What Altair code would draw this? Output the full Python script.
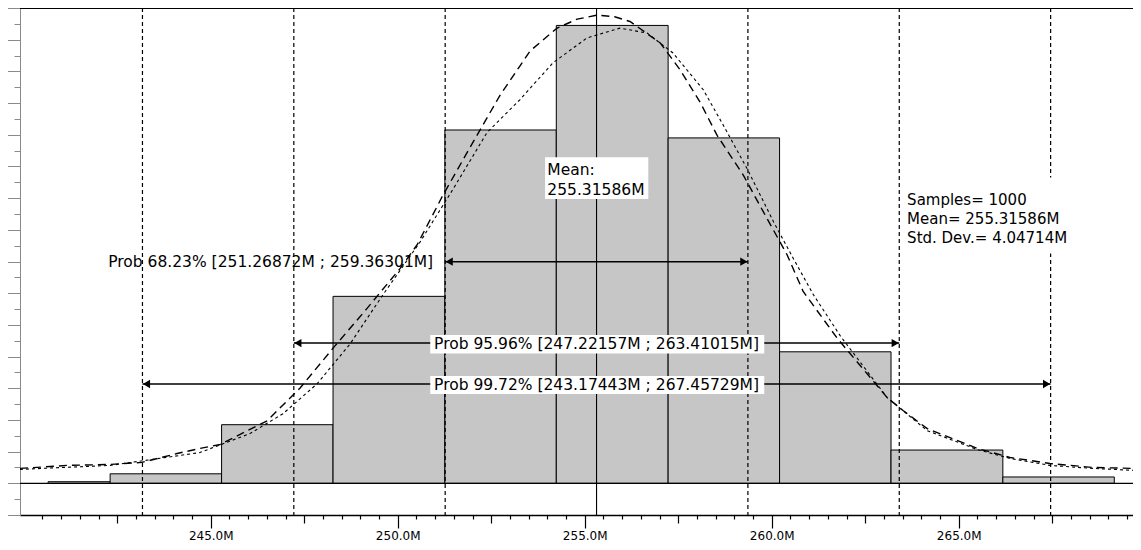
import altair as alt
import numpy as np
import pandas as pd

# ---------------- data ----------------
bin_start = [240.65, 242.31, 245.29, 248.27, 251.26, 254.24, 257.23, 260.21, 263.19, 266.18]
bin_end = [242.31, 245.29, 248.27, 251.26, 254.24, 257.23, 260.21, 263.19, 266.18, 269.16]
counts = [1, 6, 37, 118, 223, 289, 218, 83, 21, 4]

fit_a_x = [239.90, 241.16, 242.31, 243.16, 244.10, 244.71, 245.25, 246.51, 247.39, 248.27,
           249.18, 250.06, 250.52, 251.21, 252.01, 252.73, 253.27, 253.54, 254.26, 254.80,
           255.33, 255.80, 256.21, 257.02, 257.55, 258.09, 258.54, 259.24, 259.88, 260.41,
           260.84, 261.75, 263.09, 263.52, 264.16, 265.50, 266.37, 267.44, 268.59, 269.66]
fit_a_y = [9.4, 11.3, 11.9, 13.2, 18.8, 22.0, 24.5, 39.5, 60.2, 85.3,
           110.4, 135.5, 150.6, 181.9, 215.2, 244.7, 263.5, 272.9, 287.3, 293.0,
           295.5, 294.5, 291.5, 277.9, 261.0, 240.3, 219.6, 194.5, 166.9, 144.3,
           121.1, 91.6, 54.0, 45.8, 34.5, 22.0, 16.3, 12.5, 10.0, 9.4]

fit_b_x = [239.90, 242.31, 244.71, 246.05, 246.93, 247.84, 248.72, 249.61, 250.60, 251.48,
           252.39, 253.27, 254.15, 255.06, 255.94, 256.67, 257.36, 258.17, 258.71, 259.35,
           260.05, 260.58, 261.11, 261.84, 263.09, 264.16, 265.50, 266.37, 267.44, 268.59, 269.66]
fit_b_y = [8.8, 11.3, 19.4, 31.4, 43.9, 62.7, 87.8, 119.2, 152.4, 185.7,
           221.5, 242.2, 265.4, 281.1, 287.3, 284.2, 271.6, 248.4, 225.8, 198.2,
           165.0, 141.8, 119.2, 92.8, 54.0, 33.2, 21.3, 15.7, 11.3, 9.4, 8.2]

sigma_bounds = [243.17443, 247.22157, 251.26872, 259.36301, 263.41015, 267.45729]
mean_value = 255.31586

prob_text = ["Prob 68.23% [251.26872M ; 259.36301M]",
             "Prob 95.96% [247.22157M ; 263.41015M]",
             "Prob 99.72% [243.17443M ; 267.45729M]"]
prob_lo = [251.26872, 247.22157, 243.17443]
prob_hi = [259.36301, 263.41015, 267.45729]

mean_text = ["Mean:", "255.31586M"]
stats_text = ["Samples= 1000", "Mean= 255.31586M", "Std. Dev.= 4.04714M"]

# ---------------- layout (in data coordinates) ----------------
X_DOMAIN = [239.90, 269.66]
Y_DOMAIN = [-20, 300]
prob_y = [139.9, 88.5, 62.7]
prob_text_y = [139.9, 87.9, 62.1]
box_x0 = [250.87, 250.87, 253.94, 263.52]
box_x1 = [259.80, 259.80, 256.70, 268.24]
box_y0 = [82.0, 56.4, 179.4, 145.0]
box_y1 = [93.6, 67.8, 205.8, 193.0]
mean_text_x = 254.00
mean_text_y = [197.5, 185.4]
stats_x = 263.62
stats_y = [178.6, 166.7, 155.0]

FONT = "DejaVu Sans"

xs = alt.Scale(domain=X_DOMAIN, nice=False, zero=False)
ys = alt.Scale(domain=Y_DOMAIN, nice=False, zero=False)

x_ticks = [round(float(v), 1) for v in np.arange(240.5, 269.51, 0.5)]
y_ticks = list(range(-20, 301, 10))

x_axis = alt.Axis(
    values=x_ticks,
    labelExpr="datum.value % 5 === 0 ? format(datum.value, '.1f') + 'M' : ''",
    tickSize={"condition": [{"test": "datum.value % 5 === 0", "value": 13},
                            {"test": "datum.value % 2.5 === 0", "value": 8}],
              "value": 4},
    tickColor="black", tickWidth=1.2, domainColor="black", domainWidth=1.5,
    labelColor="black", labelFont=FONT, labelFontSize=12, labelPadding=2,
    labelOverlap=False, labelFlush=False, grid=False, title=None,
)
y_axis = alt.Axis(
    values=y_ticks, labels=False,
    tickSize={"condition": {"test": "datum.value % 20 === 0", "value": 13}, "value": 6},
    tickColor="#8a8a8a", domainColor="#8a8a8a", grid=False, title=None,
)


def X(field):
    return alt.X(field, scale=xs, axis=x_axis)


def Y(field):
    return alt.Y(field, scale=ys, axis=y_axis)


bars_df = pd.DataFrame({"x0": bin_start, "x1": bin_end, "n": counts})
bars_df["base"] = 0
bars = alt.Chart(bars_df).mark_rect(fill="#c6c6c6", stroke="black", strokeWidth=1).encode(
    x=X("x0:Q"), x2="x1:Q", y=Y("n:Q"), y2="base:Q",
)

hl_df = pd.DataFrame({"y": [0, Y_DOMAIN[1]], "w": [1.2, 1.8]})
hlines = alt.Chart(hl_df).mark_rule(color="black").encode(
    y=Y("y:Q"), strokeWidth=alt.StrokeWidth("w:Q", scale=None),
)

sig_df = pd.DataFrame({"x": sigma_bounds})
sig_lines = alt.Chart(sig_df).mark_rule(color="black", strokeWidth=1.2, strokeDash=[4, 3]).encode(
    x=X("x:Q")
)

mean_df = pd.DataFrame({"x": [mean_value]})
mean_line = alt.Chart(mean_df).mark_rule(color="black", strokeWidth=1.1).encode(x=X("x:Q"))

fa_df = pd.DataFrame({"x": fit_a_x, "y": fit_a_y})
curve_a = alt.Chart(fa_df).mark_line(color="black", strokeWidth=1.4, strokeDash=[8, 5]).encode(
    x=X("x:Q"), y=Y("y:Q"), order="x:Q"
)
fb_df = pd.DataFrame({"x": fit_b_x, "y": fit_b_y})
curve_b = alt.Chart(fb_df).mark_line(color="black", strokeWidth=1.1, strokeDash=[3, 3]).encode(
    x=X("x:Q"), y=Y("y:Q"), order="x:Q"
)

arr_df = pd.DataFrame({"lo": prob_lo, "hi": prob_hi, "y": prob_y})
arrows = alt.Chart(arr_df).mark_rule(color="black", strokeWidth=1.5).encode(
    x=X("lo:Q"), x2="hi:Q", y=Y("y:Q")
)
head_l = alt.Chart(arr_df).mark_point(shape="triangle-left", filled=True, size=70, color="black",
                                      opacity=1, xOffset=4).encode(x=X("lo:Q"), y=Y("y:Q"))
head_r = alt.Chart(arr_df).mark_point(shape="triangle-right", filled=True, size=70, color="black",
                                      opacity=1, xOffset=-4).encode(x=X("hi:Q"), y=Y("y:Q"))

box_df = pd.DataFrame({"x0": box_x0, "x1": box_x1, "y0": box_y0, "y1": box_y1})
boxes = alt.Chart(box_df).mark_rect(fill="white").encode(
    x=X("x0:Q"), x2="x1:Q", y=Y("y0:Q"), y2="y1:Q",
)

p1_df = pd.DataFrame({"x": [prob_lo[0]], "y": [prob_text_y[0]], "t": [prob_text[0]]})
prob1 = alt.Chart(p1_df).mark_text(align="right", baseline="middle", dx=-12, font=FONT,
                                   fontSize=15.5, color="black").encode(
    x=X("x:Q"), y=Y("y:Q"), text="t:N"
)
p23_df = pd.DataFrame({"x": [mean_value, mean_value], "y": prob_text_y[1:], "t": prob_text[1:]})
prob23 = alt.Chart(p23_df).mark_text(align="center", baseline="middle", font=FONT,
                                     fontSize=15.5, color="black").encode(
    x=X("x:Q"), y=Y("y:Q"), text="t:N"
)

m_df = pd.DataFrame({"x": [mean_text_x] * 2, "y": mean_text_y, "t": mean_text})
mean_lbl = alt.Chart(m_df).mark_text(align="left", baseline="middle", font=FONT,
                                     fontSize=15.5, color="black").encode(
    x=X("x:Q"), y=Y("y:Q"), text="t:N"
)

s_df = pd.DataFrame({"x": [stats_x] * 3, "y": stats_y, "t": stats_text})
stats_lbl = alt.Chart(s_df).mark_text(align="left", baseline="middle", font=FONT,
                                      fontSize=15, color="black").encode(
    x=X("x:Q"), y=Y("y:Q"), text="t:N"
)

chart = alt.layer(
    bars, hlines, sig_lines, mean_line, curve_a, curve_b, arrows, head_l, head_r,
    boxes, prob1, prob23, mean_lbl, stats_lbl,
).properties(
    width=1113, height=507,
    autosize=alt.AutoSizeParams(type="none"),
    padding={"left": 12, "top": 0, "right": 0, "bottom": 30},
    background="white",
).configure_view(stroke=None)

chart.save("out.html", embed_options={"renderer": "svg", "actions": False})
